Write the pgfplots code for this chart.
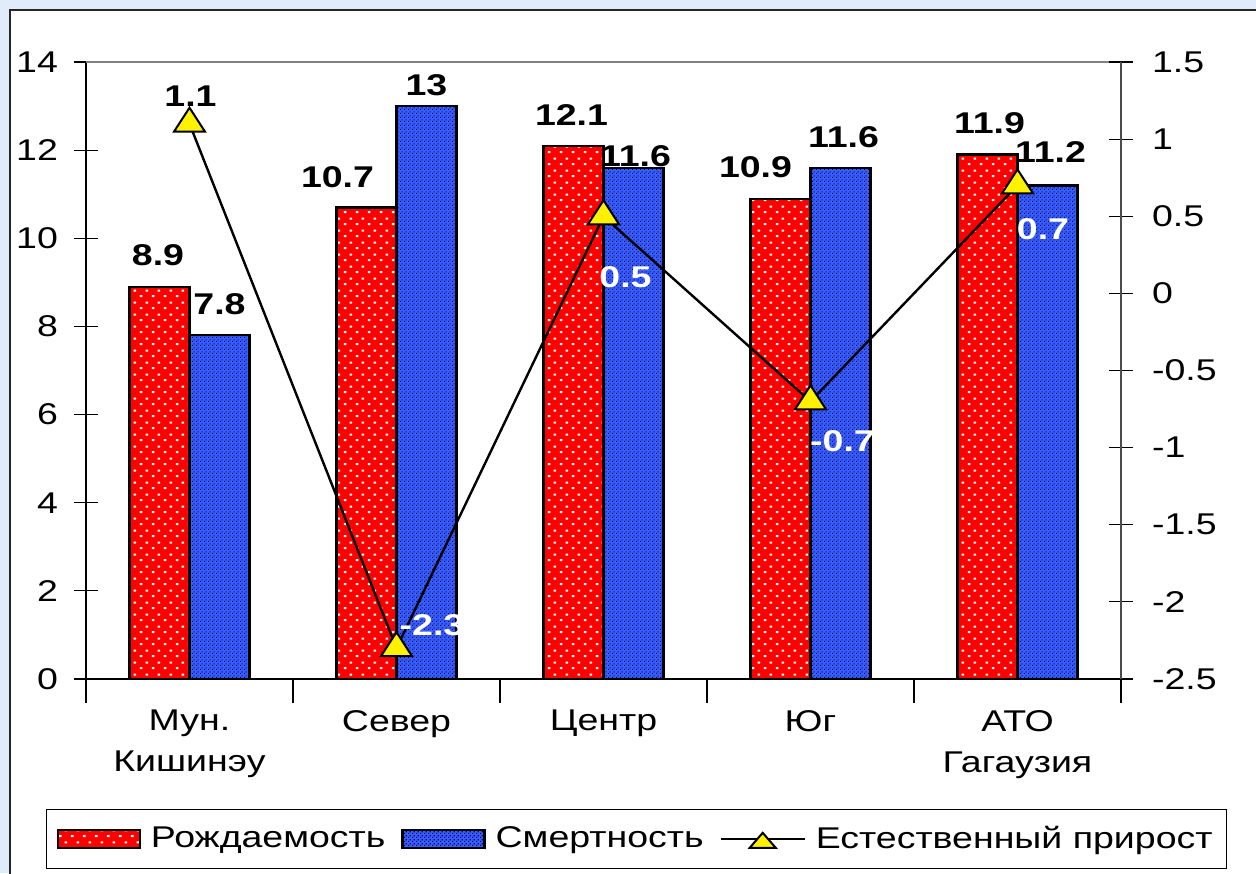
\documentclass[border=0pt]{standalone}
\usepackage{fontspec}
\setmainfont[FakeStretch=1.25]{Liberation Sans}
\usepackage{pgfplots}
\usepackage{pgfplotstable}
\pgfplotsset{compat=1.18}
\usetikzlibrary{patterns}

% white dots on the red bars, fine dark mesh on the blue ones
\pgfdeclarepatternformonly{reddots}{\pgfqpoint{0pt}{0pt}}{\pgfqpoint{5.8pt}{6pt}}{\pgfqpoint{5.8pt}{6pt}}{%
  \pgfpathrectangle{\pgfqpoint{0.5pt}{0.5pt}}{\pgfqpoint{1.3pt}{1pt}}%
  \pgfpathrectangle{\pgfqpoint{3.4pt}{3.5pt}}{\pgfqpoint{1.3pt}{1pt}}%
  \pgfusepath{fill}}
\pgfdeclarepatternformonly{bluemesh}{\pgfqpoint{0pt}{0pt}}{\pgfqpoint{2pt}{2pt}}{\pgfqpoint{2pt}{2pt}}{%
  \pgfpathrectangle{\pgfqpoint{0pt}{0pt}}{\pgfqpoint{0.7pt}{0.7pt}}%
  \pgfpathrectangle{\pgfqpoint{1pt}{1pt}}{\pgfqpoint{0.7pt}{0.7pt}}%
  \pgfusepath{fill}}

\definecolor{barred}{RGB}{255,0,0}
\definecolor{barblue}{RGB}{55,95,255}
\definecolor{meshblue}{RGB}{0,0,90}
\definecolor{bgblue}{RGB}{224,236,250}

% x: category, y: value, dx/dy: label offset (pt)
\pgfplotstableread{
x y dx dy
0 8.9 -0.75 16
1 10.7 -14.5 15
2 12.1 -1 15.5
3 10.9 -12.5 15.5
4 11.9 1 15.8
}\birth
\pgfplotstableread{
x y dx dy
0 7.8 0 15.5
1 13 0 10.5
2 11.6 1 6
3 11.6 1.5 15.5
4 11.2 1.5 16.5
}\death
\pgfplotstableread{
x y dx dy c
0 1.1 0.5 14 100
1 -2.3 17.75 11.5 0
2 0.5 11 -30.5 0
3 -0.7 16 -20 0
4 0.7 12.75 -22 0
}\growth

\newcommand{\lblfont}{\fontsize{15}{18}\selectfont}

\pgfplotsset{
  barlabels/.style={
    nodes near coords,
    visualization depends on={\thisrow{dx}\as\ldx},
    visualization depends on={\thisrow{dy}\as\ldy},
    every node near coord/.append style={anchor=center, xshift=\ldx pt, yshift=\ldy pt,
      font=\lblfont\bfseries, text=black},
  },
  barlegend/.style={legend image code/.code={\draw[##1] (0pt,-4.5pt) rectangle (41pt,4.5pt);}},
  linelegend/.style={legend image code/.code={%
    \draw[black, line width=1.1pt] (0pt,0pt) -- (42pt,0pt);
    \filldraw[fill=yellow, draw=black, line width=1pt] (21pt,3pt) -- (27.5pt,-4.5pt) -- (14.5pt,-4.5pt) -- cycle;}},
}

\begin{document}
\begin{tikzpicture}
\fill[bgblue] (-43pt,-97pt) rectangle (585pt,339.5pt);
\useasboundingbox (-43pt,-97pt) rectangle (585pt,339.5pt);
\filldraw[fill=white, draw=black!85, line width=0.8pt] (-38pt,-120pt) rectangle (600pt,334.5pt);

\pgfplotsset{
  every axis/.append style={
    scale only axis, width=517.5pt, height=308.5pt,
    xmin=-0.5, xmax=4.5, clip=false,
    tick align=center, major tick length=12pt, minor tick length=12pt,
    tick style={black, line width=0.6pt},
    /pgf/number format/assume math mode=true,
    every tick label/.append style={font=\lblfont},
  },
}

\begin{axis}[
  ymin=0, ymax=14,
  axis x line*=bottom, axis y line*=left,
  axis line style={black, line width=0.8pt},
  ybar=0pt, bar width=30pt,
  xtick={0,1,2,3,4},
  xticklabels={{Мун.\\Кишинэу},Север,Центр,Юг,{АТО\\Гагаузия}},
  xticklabel style={font=\fontsize{15}{20.5}\selectfont, align=center},
  major x tick style={draw=none},
  minor xtick={-0.5,0.5,1.5,2.5,3.5,4.5},
  ytick={0,2,4,6,8,10,12,14},
  yticklabel style={xshift=-4.5pt},
  legend columns=3,
  legend style={at={(0.532,-0.259)}, anchor=center, draw=black, line width=0.6pt,
    font=\lblfont, inner xsep=5pt, inner ysep=6.5pt,
    /tikz/every odd column/.append style={column sep=3pt},
    /tikz/every even column/.append style={column sep=6pt}},
]
\draw[gray, line width=0.8pt] (rel axis cs:0,1) -- (rel axis cs:1,1);
\addplot[draw=black, line width=1.1pt, preaction={fill=barred},
  pattern=reddots, pattern color=white, barlabels, barlegend]
  table[x=x, y=y]{\birth};
\addlegendentry{Рождаемость}
\addplot[draw=black, line width=1.1pt, preaction={fill=barblue},
  pattern=bluemesh, pattern color=meshblue, barlabels, barlegend]
  table[x=x, y=y]{\death};
\addlegendentry{Смертность}
\addlegendimage{linelegend}
\addlegendentry{Естественный прирост}
\end{axis}

\begin{axis}[
  ymin=-2.5, ymax=1.5,
  axis y line*=right, axis x line=none,
  axis line style={black!70, line width=1pt},
  ytick={-2.5,-2,-1.5,-1,-0.5,0,0.5,1,1.5},
  yticklabel style={/pgf/number format/fixed, xshift=6pt},
]
\addplot[black, line width=1.2pt, mark=triangle*,
  mark options={fill=yellow, draw=black, line width=1pt, mark size=8pt, xscale=1.12},
  nodes near coords,
  visualization depends on={\thisrow{dx}\as\ldx},
  visualization depends on={\thisrow{dy}\as\ldy},
  visualization depends on={\thisrow{c}\as\lcol},
  every node near coord/.append style={anchor=center, xshift=\ldx pt, yshift=\ldy pt,
    font=\lblfont\bfseries, text=black!\lcol!white},
] table[x=x, y=y]{\growth};
\end{axis}
\end{tikzpicture}
\end{document}
